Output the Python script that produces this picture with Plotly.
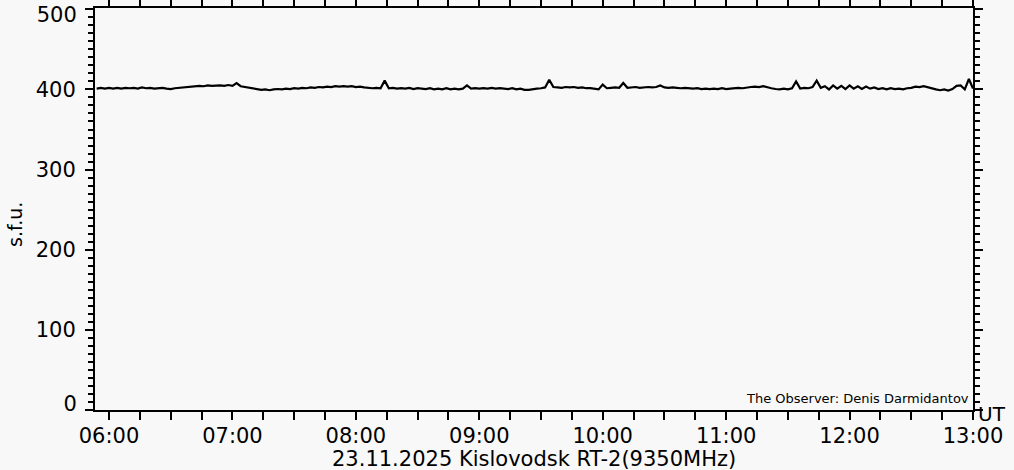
import plotly.graph_objects as go
import pandas as pd

# Sampling grid: every 2 minutes from 05:54 to 13:00 (UT)
start_time = "2025-11-23 05:54"
step_minutes = 2

flux_sfu = [
    401, 402, 401, 402, 401,
    402, 401, 402, 401.5, 402,
    401, 402.5, 401.5, 402, 401,
    401.5, 402, 401, 400.5, 401.5,
    402, 402.5, 403, 403.5, 404,
    404.5, 404, 405, 404.5, 405,
    405, 404.5, 405.5, 404.5, 408,
    404, 403, 402, 401, 400,
    399.5, 400, 399, 400, 400.5,
    400, 401, 400.5, 401.5, 401,
    402, 401.5, 402.5, 402, 403,
    402.5, 403.5, 403, 404, 403.5,
    404, 403.5, 404, 403, 403.5,
    402.5, 402, 401.5, 402, 401.5,
    411, 401.5, 402, 401, 401.5,
    401, 402, 400.5, 401.5, 401,
    400.5, 401.5, 400, 401, 400,
    401.5, 400, 401, 400, 401,
    405, 401, 401.5, 401, 401.5,
    401, 402, 401, 401.5, 401,
    400.5, 401.5, 400, 401, 399.5,
    399.5, 400.5, 401, 401.5, 402.5,
    412, 403, 402.5, 402, 403,
    402.5, 403, 402, 402.5, 401.5,
    401.5, 400.5, 400, 406, 401.5,
    402, 402.5, 402, 408, 402,
    402.5, 403, 402, 402.5, 403,
    402.5, 403, 405, 402.5, 402,
    402.5, 402, 401.5, 402, 401.5,
    401, 401.5, 400.5, 401, 400.5,
    401, 400.5, 401.5, 400.5, 401,
    401.5, 402, 401.5, 402.5, 403,
    403.5, 403, 404, 402.5, 401.5,
    400.5, 400, 401, 400, 401.5,
    410, 401, 402, 401.5, 403,
    411, 402, 404, 400, 405,
    401, 404.5, 400.5, 405, 401,
    404, 400.5, 403.5, 401, 402.5,
    400.5, 401.5, 400, 401.5, 400.5,
    401, 400, 401.5, 402, 403.5,
    403, 404, 402.5, 401, 400,
    399, 400, 398.5, 400.5, 404.5,
    405, 400, 413, 401,
]

times = pd.date_range(start_time, periods=len(flux_sfu), freq=f"{step_minutes}min")

x_tick_format = "%H:%M"
y_ticks = [0, 100, 200, 300, 400, 500]
y_tick_text = ["0", "100", "200", "300", "400", "500"]
title_text = "23.11.2025 Kislovodsk RT-2(9350MHz)"
y_title = "s.f.u."
x_unit = "UT"
observer_text = "The Observer: Denis Darmidantov"

bg = "#f8f8f8"
font_family = "DejaVu Sans"
y_range = [0, 501.6]

fig = go.Figure()
fig.add_trace(go.Scatter(
    x=times, y=flux_sfu, mode="lines",
    line=dict(color="black", width=2.2),
    hoverinfo="skip", showlegend=False,
))
# empty traces so the helper label axes get drawn
for ax in ("y2", "y3"):
    fig.add_trace(go.Scatter(x=[], y=[], yaxis=ax, mode="lines",
                             hoverinfo="skip", showlegend=False))

fig.update_layout(
    width=1014, height=470,
    margin=dict(l=95, r=41, t=8, b=60, autoexpand=False),
    paper_bgcolor=bg, plot_bgcolor=bg,
    font=dict(family=font_family, color="black", size=21),
    showlegend=False,
)

fig.update_xaxes(
    range=["2025-11-23 05:53:11", "2025-11-23 13:00:00"],
    tickformat=x_tick_format, dtick=3600000, tick0="2025-11-23 06:00",
    ticks="outside", ticklen=8, tickwidth=2, tickcolor="black",
    showline=True, linewidth=2, linecolor="black", mirror="allticks",
    showgrid=False, zeroline=False, automargin=False,
    tickfont=dict(size=21, family=font_family, color="black"),
    ticklabelstandoff=-2, ticklabeloverflow="allow",
    minor=dict(dtick=900000, ticks="outside", ticklen=4, tickwidth=2, tickcolor="black", showgrid=False),
)

# Main y axis: line, ticks and the middle labels (end labels are drawn by
# helper axes so they can be nudged inward like in the original plot).
fig.update_yaxes(
    range=y_range,
    tickvals=y_ticks,
    ticktext=[""] + y_tick_text[1:-1] + [""],
    ticks="outside", ticklen=8, tickwidth=2, tickcolor="black",
    showline=True, linewidth=2, linecolor="black", mirror="allticks",
    showgrid=False, zeroline=False, automargin=False,
    tickfont=dict(size=21, family=font_family, color="black"),
    ticklabelstandoff=5, ticklabeloverflow="allow",
    minor=dict(dtick=10, tick0=0, ticks="outside", ticklen=5, tickwidth=2, tickcolor="black", showgrid=False),
)

helper = dict(
    overlaying="y", side="left", anchor="x", range=y_range,
    ticks="outside", ticklen=8, tickcolor="rgba(0,0,0,0)",
    showline=False, showgrid=False, zeroline=False, automargin=False,
    tickfont=dict(size=21, family=font_family, color="black"),
    ticklabelstandoff=5, ticklabeloverflow="allow",
)
fig.update_layout(
    yaxis2=dict(helper, tickvals=[y_ticks[-1]], ticktext=[y_tick_text[-1]], ticklabelshift=5),
    yaxis3=dict(helper, tickvals=[y_ticks[0]], ticktext=[y_tick_text[0]], ticklabelshift=-6),
)

fig.add_annotation(
    text=title_text, xref="paper", yref="paper",
    x=0.5, y=(410 - 459) / 402, xanchor="center", yanchor="middle",
    showarrow=False, font=dict(size=21, family=font_family, color="black"),
)
fig.add_annotation(
    text=y_title, xref="paper", yref="paper", textangle=-90,
    x=(15 - 95) / 878, y=(410 - 225) / 402, xanchor="center", yanchor="middle",
    showarrow=False, font=dict(size=19, family=font_family, color="black"),
)
fig.add_annotation(
    text=x_unit, xref="paper", yref="paper",
    x=(992 - 95) / 878, y=(410 - 414) / 402, xanchor="center", yanchor="middle",
    showarrow=False, font=dict(size=20, family=font_family, color="black"),
)
fig.add_annotation(
    text=observer_text, xref="paper", yref="paper",
    x=(971 - 95) / 878, y=(410 - 398) / 402, xanchor="right", yanchor="middle",
    showarrow=False, font=dict(size=13, family=font_family, color="black"),
)

fig.write_html(
    "out.html",
    config={"displayModeBar": False},
    post_script="document.body.style.margin='0';document.body.style.background='#f8f8f8';",
)
